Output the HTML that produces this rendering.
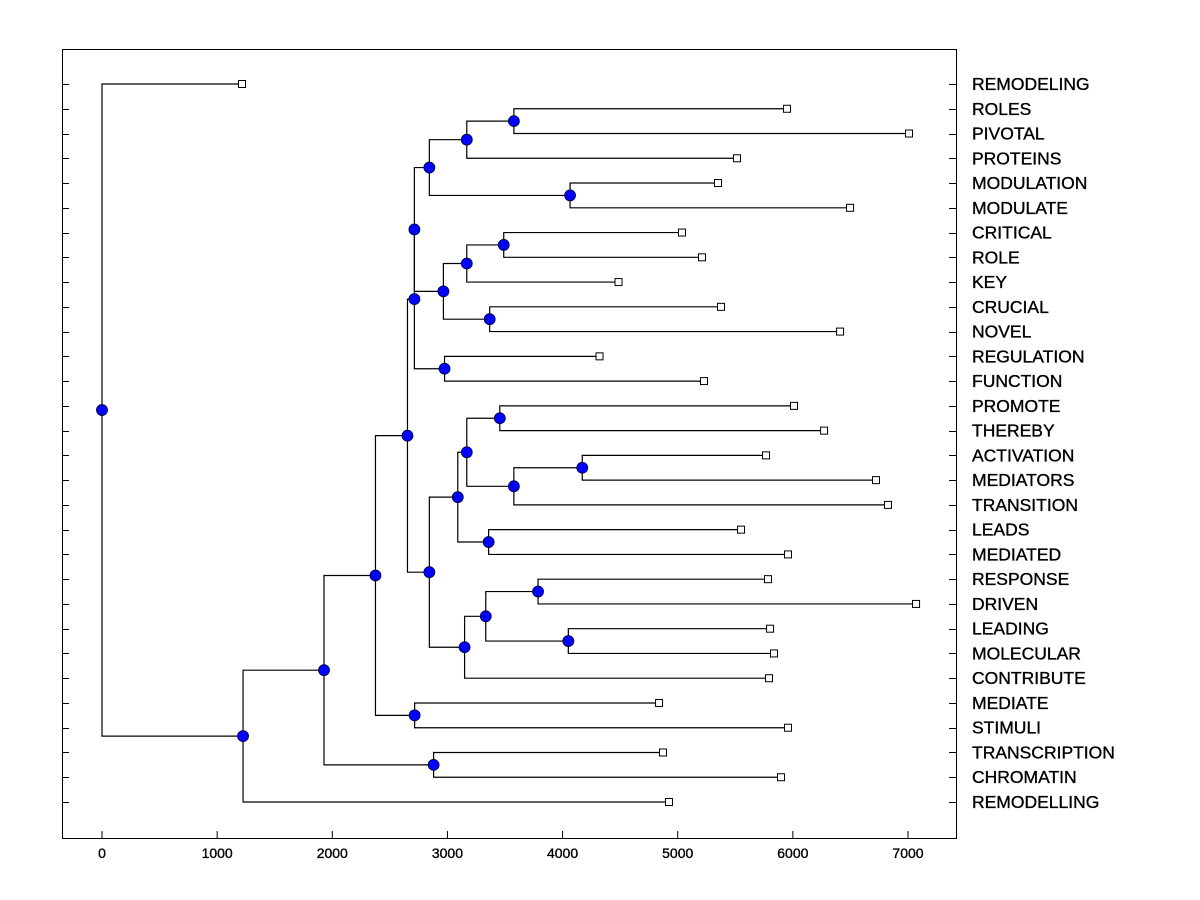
<!DOCTYPE html>
<html><head><meta charset="utf-8"><style>
body{margin:0;background:#fff;}
svg{display:block;font-family:"Liberation Sans",Arial,sans-serif;}
</style></head><body>
<svg id="chart" width="1200" height="900">
<rect x="0" y="0" width="1200" height="900" fill="#fff"/>
<rect x="62.5" y="49.5" width="894" height="789" fill="none" stroke="#000" stroke-width="1"/>
<g id="ticks"></g>
<g id="links"></g>
<g id="marks"></g>
<g id="labels"></g>
</svg>
<script>
const leafNames = ["REMODELING","ROLES","PIVOTAL","PROTEINS","MODULATION","MODULATE","CRITICAL","ROLE","KEY","CRUCIAL","NOVEL","REGULATION","FUNCTION","PROMOTE","THEREBY","ACTIVATION","MEDIATORS","TRANSITION","LEADS","MEDIATED","RESPONSE","DRIVEN","LEADING","MOLECULAR","CONTRIBUTE","MEDIATE","STIMULI","TRANSCRIPTION","CHROMATIN","REMODELLING"];
const leafValues = [1216,5949,7009,5515,5350,6497,5037,5211,4486,5376,6410,4321,5228,6010,6271,5767,6722,6826,5550,5958,5784,7070,5802,5836,5793,4838,5958,4872,5897,4924];
const mergeLeft  = [1,30,4,31,6,34,9,35,33,11,38,13,15,42,41,18,44,20,22,47,49,46,40,25,52,27,54,56,0];
const mergeRight = [2,3,5,32,7,8,10,36,37,12,39,14,16,17,43,19,45,21,23,48,24,50,51,26,53,28,55,29,57];
const mergeHeight= [3577,3168,4065,2843,3489,3168,3367,2965,2713,2975,2713,3455,4171,3577,3168,3358,3090,3787,4050,3333,3149,2843,2653,2715,2375,2880,1928,1225,0];
const xTicks = [0,1000,2000,3000,4000,5000,6000,7000];

const NS="http://www.w3.org/2000/svg";
function xs(v){return 102 + v*806/7000;}
function ys(i){return 84 + i*(802-84)/29;}
function mk(tag,attrs,parent){const e=document.createElementNS(NS,tag);for(const k in attrs)e.setAttribute(k,attrs[k]);parent.appendChild(e);return e;}
const gT=document.getElementById('ticks'),gL=document.getElementById('links'),gM=document.getElementById('marks'),gLab=document.getElementById('labels');

const nx=[],ny=[];
leafNames.forEach((n,i)=>{nx[i]=xs(leafValues[i]);ny[i]=ys(i);});
mergeHeight.forEach((h,k)=>{const id=30+k;nx[id]=xs(h);ny[id]=(ny[mergeLeft[k]]+ny[mergeRight[k]])/2;});

xTicks.forEach(t=>{
  const l=mk('line',{x1:xs(t),x2:xs(t),y1:838,y2:831,stroke:'#000'},gT);
  
  
  const tx=mk('text',{x:xs(t),y:858,'text-anchor':'middle','font-size':14,stroke:'#000','stroke-width':0.35},gT);
  tx.textContent=t;
  
  
});
leafNames.forEach((n,i)=>{
  const y=Math.round(ys(i))+0.5;
  const a=mk('line',{x1:62,x2:69,y1:y,y2:y,stroke:'#000'},gT);
  
  
  const b=mk('line',{x1:949,x2:956,y1:y,y2:y,stroke:'#000'},gT);
  
  
  const t=mk('text',{x:972,y:ys(i)+6,'font-size':17.5,stroke:'#000','stroke-width':0.35},gLab);
  t.textContent=n;
  
  
});

mergeHeight.forEach((h,k)=>{
  const id=30+k,L=mergeLeft[k],R=mergeRight[k],x=nx[id];
  const p=mk('path',{d:`M${nx[L]},${ny[L]}H${x}V${ny[R]}H${nx[R]}`,fill:'none',stroke:'#000','stroke-width':1.2},gL);
  
  
});
leafNames.forEach((n,i)=>{
  const r=mk('rect',{x:nx[i]-3.5,y:ny[i]-3.5,width:7,height:7,fill:'#fff',stroke:'#000'},gM);
  
  
});
mergeHeight.forEach((h,k)=>{
  const id=30+k;
  const c=mk('circle',{cx:nx[id],cy:ny[id],r:5.5,fill:'#0000ff',stroke:'#000033','stroke-width':0.8},gM);
  
  
});
</script>
</body></html>
